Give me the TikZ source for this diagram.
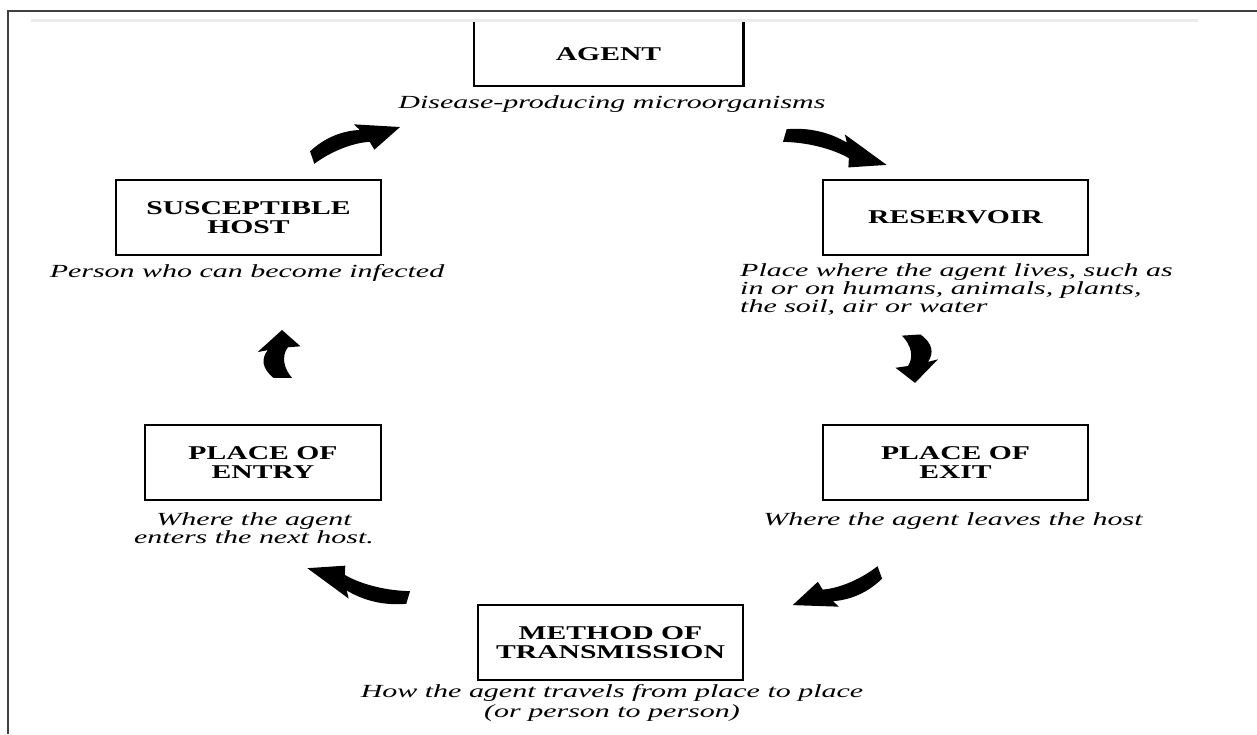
\documentclass[tikz,border=0pt]{standalone}
\usepackage{fontspec}
\setmainfont{Liberation Serif}
\newfontfamily\labfont[FakeStretch=1.52]{Liberation Serif}
\newfontfamily\descfont[FakeStretch=1.62]{Liberation Serif}
\tikzset{
  box/.style={draw=black, line width=2.6pt, minimum width=265pt, minimum height=75pt, inner sep=0pt,
    font=\labfont\bfseries\fontsize{19.5}{19}\selectfont, align=center},
  desc/.style={font=\descfont\itshape\fontsize{18.5}{18}\selectfont, inner sep=0pt},
  swoosh/.pic={
    \fill[black] (0,0.2) .. controls (0.2,0.48) and (0.4,0.5) .. (0.58,0.34)
      -- (0.54,0.58) -- (1,0) -- (0.66,-0.44) -- (0.64,-0.14)
      .. controls (0.45,0.02) and (0.2,-0.04) .. (0,-0.24) -- cycle;
  }
}
\begin{document}
\begin{tikzpicture}[x=1pt,y=1pt]
\useasboundingbox (0,0) rectangle (1257,734);
% frame
\draw[black!75, line width=1.5pt] (8,0) -- (8,723) -- (1257,723);
\draw[black!8, line width=3pt] (31,713) -- (1198,713);

% boxes
\node[minimum width=269pt, minimum height=64pt, inner sep=0pt,
      font=\labfont\bfseries\fontsize{19.5}{19}\selectfont] (agent) at (608.5,680) {AGENT};
\draw[line width=2.6pt] (agent.north west) -- (agent.south west) -- (agent.south east) -- (agent.north east);
\node[box] (host) at (248.5,516.5) {SUSCEPTIBLE\\HOST};
\node[box] (res) at (955.5,516.5) {RESERVOIR};
\node[box, minimum width=236pt] (entry) at (263,271.5) {PLACE OF\\ENTRY};
\node[box] (exit) at (955.5,271.5) {PLACE OF\\EXIT};
\node[box] (meth) at (610.5,91.5) {METHOD OF\\TRANSMISSION};

% descriptions
\node[desc] (dagent) at (612,630) {Disease-producing microorganisms};
\node[desc] (dhost) at (247,461) {Person who can become infected};
\node[desc, align=left, anchor=north west] (dres) at (740,471) {Place where the agent lives, such as\\in or on humans, animals, plants,\\the soil, air or water};
\node[desc] (dexit) at (953,213) {Where the agent leaves the host};
\node[desc, align=center] (dentry) at (254,206) {Where the agent\\enters the next host.};
\node[desc, align=center, font=\descfont\itshape\fontsize{18.5}{20}\selectfont] (dmeth) at (612,31) {How the agent travels from place to place\\(or person to person)};

% arrows
\coordinate (a1t) at (312,577); \coordinate (a1h) at (400,607);
\coordinate (a2t) at (785,599); \coordinate (a2h) at (887,569);
\coordinate (a3t) at (912,399); \coordinate (a3h) at (915,351);
\coordinate (a4t) at (282,356); \coordinate (a4h) at (282,404);
\coordinate (a5t) at (880,161); \coordinate (a5h) at (793,129);
\coordinate (a6t) at (408,136); \coordinate (a6h) at (307,166);
\pic[rotate=18.8, xscale=93, yscale=30] at (a1t) {swoosh};
\pic[rotate=-16.4, xscale=106, yscale=30] at (a2t) {swoosh};
\pic[rotate=-86.4, xscale=48, yscale=42] at (a3t) {swoosh};
\pic[rotate=90, xscale=48, yscale=42] at (a4t) {swoosh};
\pic[rotate=200.2, xscale=93, yscale=30] at (a5t) {swoosh};
\pic[rotate=163.5, xscale=105, yscale=30] at (a6t) {swoosh};
\end{tikzpicture}
\end{document}
